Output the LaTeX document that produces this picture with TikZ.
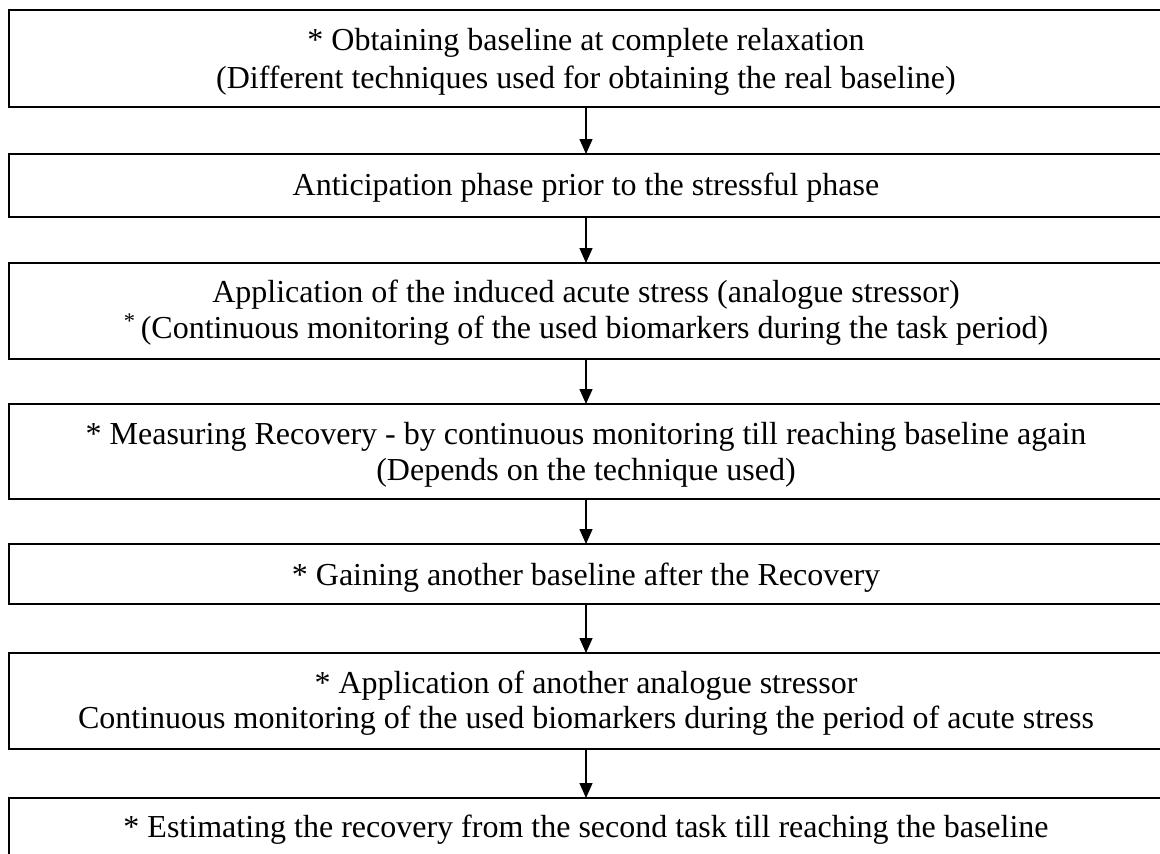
\documentclass[tikz,border=0pt]{standalone}
\usepackage{fontspec}
\setmainfont{Liberation Serif}
\usetikzlibrary{arrows.meta}
\tikzset{
  stagebox/.style={draw, line width=1.8pt, minimum width=1154pt, inner sep=0pt, outer sep=0pt},
  stagetext/.style={anchor=base, inner sep=0pt, font=\fontsize{32}{36}\selectfont},
  flow/.style={-{Triangle[length=15pt,width=13pt]}, line width=1.3pt}
}
\begin{document}
\begin{tikzpicture}[x=1pt,y=-1pt]
\useasboundingbox (0,0) rectangle (1160,854);
% boxes
\node[stagebox, minimum height=97pt] (box1) at (586,58.5) {};
\node[stagebox, minimum height=63pt] (box2) at (586,185.5) {};
\node[stagebox, minimum height=96pt] (box3) at (586,311) {};
\node[stagebox, minimum height=95pt] (box4) at (586,451.5) {};
\node[stagebox, minimum height=60pt] (box5) at (586,574) {};
\node[stagebox, minimum height=96pt] (box6) at (586,701) {};
\node[stagebox, minimum height=62pt] (box7) at (586,829) {};
% texts
\node[stagetext] (t1a) at (586,50) {* Obtaining baseline at complete relaxation};
\node[stagetext] (t1b) at (586,88) {(Different techniques used for obtaining the real baseline)};
\node[stagetext] (t2) at (586,195) {Anticipation phase prior to the stressful phase};
\node[stagetext] (t3a) at (586,302) {Application of the induced acute stress (analogue stressor)};
\node[stagetext] (t3b) at (586,338) {\textsuperscript{*}\,(Continuous monitoring of the used biomarkers during the task period)};
\node[stagetext] (t4a) at (586,444) {* Measuring Recovery - by continuous monitoring till reaching baseline again};
\node[stagetext] (t4b) at (586,480) {(Depends on the technique used)};
\node[stagetext] (t5) at (586,585) {* Gaining another baseline after the Recovery};
\node[stagetext] (t6a) at (586,693) {* Application of another analogue stressor};
\node[stagetext] (t6b) at (586,728) {Continuous monitoring of the used biomarkers during the period of acute stress};
\node[stagetext] (t7) at (586,837) {* Estimating the recovery from the second task till reaching the baseline};
% arrows
\draw[flow] (box1.south) -- (box2.north);
\draw[flow] (box2.south) -- (box3.north);
\draw[flow] (box3.south) -- (box4.north);
\draw[flow] (box4.south) -- (box5.north);
\draw[flow] (box5.south) -- (box6.north);
\draw[flow] (box6.south) -- (box7.north);
\end{tikzpicture}
\end{document}
